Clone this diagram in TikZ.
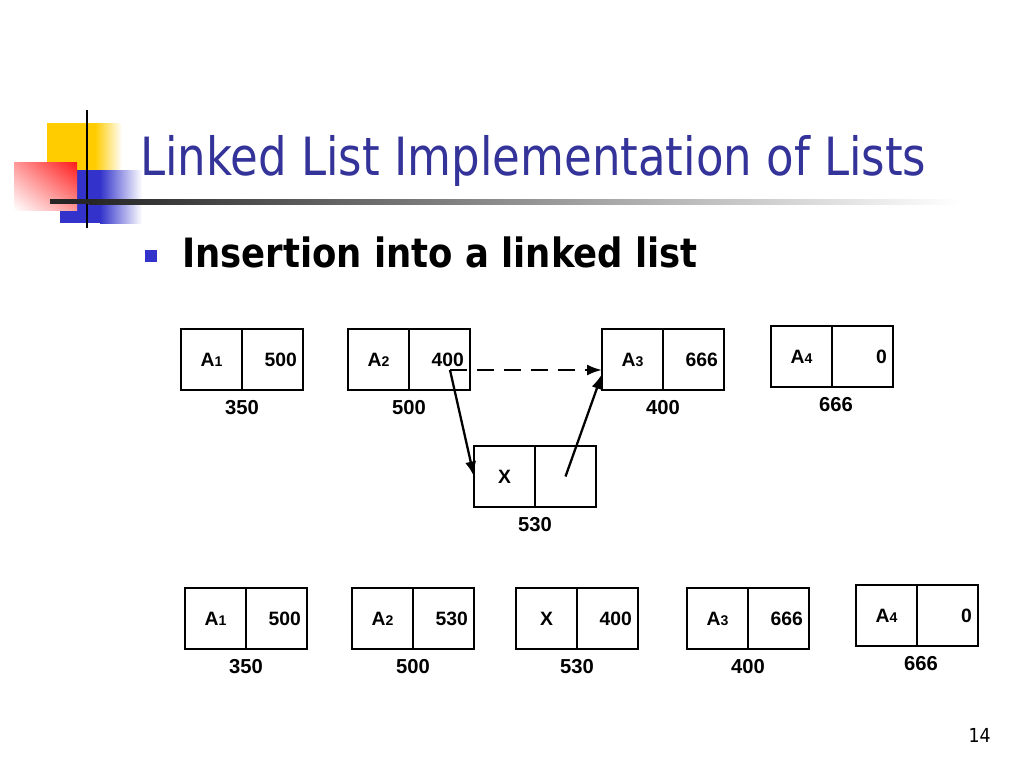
\documentclass[tikz,border=0pt]{standalone}
\usepackage{fontspec}
\setmainfont{Liberation Sans}
\newfontfamily\titlefont{DejaVu Sans Condensed}
\usetikzlibrary{positioning,arrows.meta,calc,shadings}
\definecolor{titleblue}{HTML}{333399}
\definecolor{logoyellow}{HTML}{FFCC00}
\definecolor{logored}{HTML}{FF1A1A}
\definecolor{logoblue}{HTML}{3333CC}
\tikzset{
  cell/.style={draw, line width=1.4pt, outer sep=0pt, inner sep=0pt,
    minimum width=1.22cm, minimum height=1.22cm,
    font=\fontsize{11}{13}\selectfont\bfseries},
  datacell/.style={cell},
  linkcell/.style={cell, text width=0.98cm, align=right},
  addr/.style={font=\fontsize{11.5}{13}\selectfont\bfseries, inner sep=0pt},
  link/.style={line width=1.3pt, -{Latex[length=3mm,width=2.2mm]}},
}
\newcommand{\sub}[1]{{\fontsize{8}{9}\selectfont #1}}
\begin{document}
\begin{tikzpicture}[x=0.02cm,y=-0.02cm]
\useasboundingbox (0,0) rectangle (1024,768);
\fill[white] (0,0) rectangle (1024,768);

% logo
\fill[logoyellow] (47,123) rectangle (96,175);
\shade[left color=logoyellow, right color=white] (95,123) rectangle (122,175);
\fill[logoblue] (60,170) rectangle (101,223);
\shade[left color=logoblue, right color=white] (100,170) rectangle (142,223);
\shade[upper right=logored, upper left=logored!45, lower right=logored!45, lower left=white]
  (14,162) rectangle (77,210);
\draw[line width=1.6pt] (87,110) -- (87,228);
\fill[black!85] (50,199) rectangle (90,204);
\shade[left color=black!85, right color=white] (89,199) rectangle (960,204);

% title
\node[anchor=base west, inner sep=0pt, text=titleblue,
  font=\titlefont\fontsize{30}{36}\selectfont] (title) at (140,175)
  {\scalebox{0.95}[1]{Linked List Implementation of Lists}};
\fill[logoblue] (145,250) rectangle (157,262);
\node[anchor=base west, inner sep=0pt,
  font=\titlefont\bfseries\fontsize{23}{28}\selectfont] (subtitle) at (182,267)
  {\scalebox{0.975}[1]{Insertion into a linked list}};

% before insertion
\node[datacell] (a1d) at (211.5,359.5) {A\sub{1}};
\node[linkcell, right=0pt of a1d] (a1n) {500};
\node[addr, below=0.2cm of a1d.south east] (a1a) {350};

\node[datacell] (a2d) at (378.5,359.5) {A\sub{2}};
\node[linkcell, right=0pt of a2d] (a2n) {400};
\node[addr, below=0.2cm of a2d.south east] (a2a) {500};

\node[datacell] (a3d) at (632.5,359.5) {A\sub{3}};
\node[linkcell, right=0pt of a3d] (a3n) {666};
\node[addr, below=0.2cm of a3d.south east] (a3a) {400};

\node[datacell] (a4d) at (801.5,356.5) {A\sub{4}};
\node[linkcell, right=0pt of a4d] (a4n) {0};
\node[addr, below=0.2cm of a4d.south east, xshift=0.08cm] (a4a) {666};

\node[datacell] (xd) at (504.5,476.5) {X};
\node[linkcell, right=0pt of xd] (xn) {};
\node[addr, below=0.2cm of xd.south east] (xa) {530};

\coordinate (ptr) at (450,370);
\draw[link, dash pattern=on 3.4mm off 2mm] (ptr) -- (ptr -| a3d.west);
\draw[link] (ptr) -- (xd.west);
\draw[link] (xn.center) -- ($(ptr -| a3d.west)+(0,4)$);

% after insertion
\node[datacell] (b1d) at (215.5,618.5) {A\sub{1}};
\node[linkcell, right=0pt of b1d] (b1n) {500};
\node[addr, below=0.2cm of b1d.south east] (b1a) {350};

\node[datacell] (b2d) at (382.5,618.5) {A\sub{2}};
\node[linkcell, right=0pt of b2d] (b2n) {530};
\node[addr, below=0.2cm of b2d.south east] (b2a) {500};

\node[datacell] (bxd) at (546.5,618.5) {X};
\node[linkcell, right=0pt of bxd] (bxn) {400};
\node[addr, below=0.2cm of bxd.south east] (bxa) {530};

\node[datacell] (b3d) at (717.5,618.5) {A\sub{3}};
\node[linkcell, right=0pt of b3d] (b3n) {666};
\node[addr, below=0.2cm of b3d.south east] (b3a) {400};

\node[datacell] (b4d) at (886.5,615.5) {A\sub{4}};
\node[linkcell, right=0pt of b4d] (b4n) {0};
\node[addr, below=0.2cm of b4d.south east, xshift=0.08cm] (b4a) {666};

\node[anchor=base east, inner sep=0pt, font=\titlefont\fontsize{11}{13}\selectfont]
  (pagenum) at (991,742) {14};
\end{tikzpicture}
\end{document}
